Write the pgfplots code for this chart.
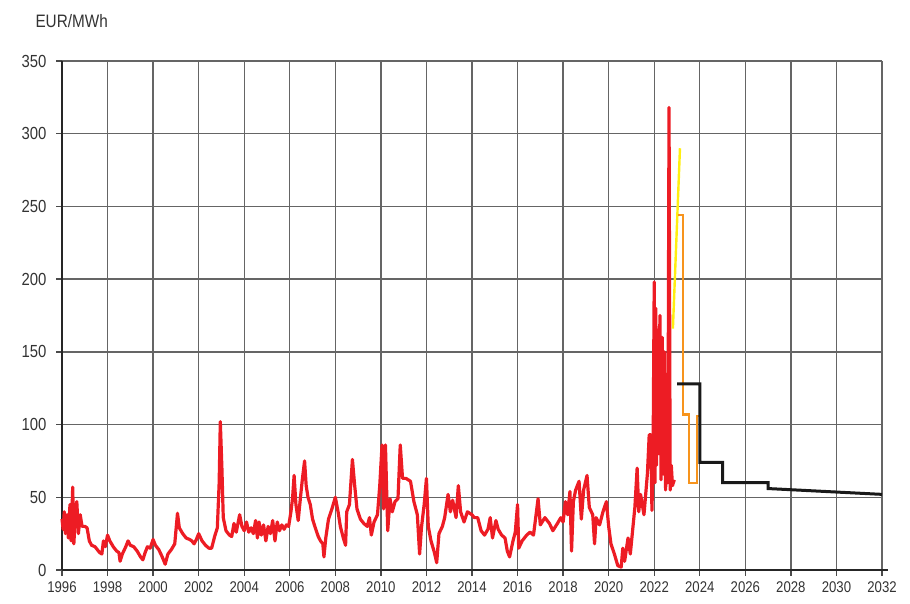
\documentclass[border=0pt]{standalone}
\usepackage{pgfplots}
\pgfplotsset{compat=1.18}
\usepackage{fontspec}
\setmainfont{Liberation Sans}[FakeStretch=0.85]
\definecolor{pricered}{HTML}{ED1C24}
\definecolor{futyellow}{HTML}{FFEE10}
\definecolor{futorange}{HTML}{F7941D}
\definecolor{gridgray}{HTML}{4A4A4A}
\definecolor{labelgray}{HTML}{333333}

\pgfplotstableread{
year price
1996.00 35
1996.05 28
1996.10 40
1996.15 25
1996.22 38
1996.28 22
1996.35 45
1996.40 20
1996.47 57
1996.52 18
1996.60 42
1996.65 47
1996.72 25
1996.80 38
1996.88 30
1997.00 30
1997.10 29
1997.20 20
1997.30 17
1997.45 16
1997.55 14
1997.65 12
1997.75 11
1997.82 20
1997.90 16
1998.00 24
1998.10 20
1998.25 16
1998.40 13
1998.50 12
1998.55 6
1998.65 11
1998.80 16
1998.90 20
1999.00 17
1999.15 16
1999.30 13
1999.45 9
1999.55 7
1999.65 12
1999.75 16
1999.87 15
2000.00 21
2000.10 17
2000.25 14
2000.40 9
2000.53 4
2000.65 11
2000.80 14
2000.95 18
2001.07 39
2001.15 29
2001.30 25
2001.45 22
2001.60 21
2001.70 20
2001.80 18
2001.90 21
2002.00 25
2002.15 20
2002.30 17
2002.45 15
2002.57 15
2002.70 23
2002.82 29
2002.90 60
2002.95 102
2003.02 70
2003.08 36
2003.20 27
2003.35 24
2003.45 23
2003.55 32
2003.65 26
2003.80 38
2003.90 30
2004.00 27
2004.10 33
2004.20 26
2004.30 29
2004.40 25
2004.50 34
2004.58 22
2004.65 33
2004.75 24
2004.85 31
2004.95 20
2005.05 30
2005.15 25
2005.25 34
2005.35 20
2005.45 33
2005.55 27
2005.65 31
2005.75 28
2005.85 31
2005.95 30
2006.05 40
2006.12 49
2006.19 65
2006.27 45
2006.37 34
2006.47 50
2006.55 62
2006.65 75
2006.72 58
2006.80 50
2006.90 45
2007.00 35
2007.10 30
2007.25 23
2007.35 20
2007.45 18
2007.50 9
2007.58 22
2007.70 35
2007.85 42
2008.00 50
2008.12 40
2008.22 30
2008.35 22
2008.45 17
2008.50 40
2008.62 45
2008.75 76
2008.85 58
2008.95 42
2009.10 35
2009.25 32
2009.40 30
2009.50 36
2009.58 24
2009.70 33
2009.85 38
2009.95 58
2010.05 86
2010.12 42
2010.20 86
2010.30 27
2010.40 49
2010.50 40
2010.62 47
2010.75 49
2010.85 86
2010.95 63
2011.10 63
2011.30 61
2011.45 47
2011.60 38
2011.70 11
2011.78 29
2011.90 45
2012.00 63
2012.08 30
2012.20 20
2012.35 12
2012.45 5
2012.55 25
2012.70 30
2012.80 36
2012.95 52
2013.05 40
2013.15 48
2013.30 36
2013.40 58
2013.50 40
2013.65 33
2013.80 40
2014.00 38
2014.10 36
2014.25 36
2014.40 27
2014.55 24
2014.70 28
2014.80 36
2014.90 22
2015.05 34
2015.15 28
2015.30 24
2015.45 22
2015.55 13
2015.65 9
2015.80 20
2015.90 26
2016.00 45
2016.05 15
2016.20 20
2016.40 24
2016.55 26
2016.70 24
2016.90 49
2017.00 31
2017.20 36
2017.40 32
2017.55 27
2017.75 32
2017.90 36
2018.00 33
2018.10 47
2018.20 38
2018.30 54
2018.37 13
2018.45 47
2018.55 55
2018.70 61
2018.80 35
2018.90 55
2019.05 65
2019.15 43
2019.30 38
2019.38 18
2019.45 36
2019.60 31
2019.75 40
2019.90 47
2020.00 30
2020.10 18
2020.25 11
2020.40 3
2020.55 2
2020.62 15
2020.70 6
2020.85 22
2020.95 11
2021.15 43
2021.25 70
2021.32 40
2021.40 52
2021.55 38
2021.70 66
2021.78 93
2021.85 93
2021.90 41
2021.95 79
2022.00 198
2022.03 60
2022.07 180
2022.10 72
2022.15 165
2022.20 80
2022.25 175
2022.30 62
2022.35 160
2022.40 66
2022.45 150
2022.50 55
2022.55 130
2022.60 60
2022.65 318
2022.70 55
2022.75 72
2022.80 58
2022.88 62
}\spotprice

\pgfplotstableread{
year price
2022.82 166
2023.13 290
}\dailyfut

\pgfplotstableread{
year price
2023.03 244
2023.27 244
2023.27 107
2023.53 107
2023.53 60
2023.88 60
2023.88 106
2023.95 106
}\quarterfut

\pgfplotstableread{
year price
2023.00 128
2024.00 128
2024.00 74
2025.00 74
2025.00 60
2027.00 60
2027.00 56
2032.00 52
}\yearfut

\begin{document}
\begin{tikzpicture}
\begin{axis}[
  scale only axis,
  width=820pt, height=509pt,
  xmin=1996, xmax=2032,
  ymin=0, ymax=350,
  xtick={1996,1998,...,2032},
  ytick={0,50,...,350},
  xticklabel style={font=\fontsize{15.5}{17}\selectfont, text=labelgray},
  yticklabel style={font=\fontsize{17.5}{19}\selectfont, text=labelgray},
  /pgf/number format/assume math mode=true,
  /pgf/number format/1000 sep={},
  axis x line=bottom, axis y line=left,
  axis line style={-, line width=1.8pt, black!85},
  x axis line style={line width=2.4pt, shorten >=-6pt},
  tick align=outside, major tick length=6pt,
  tick style={line width=1.4pt, gridgray},
  grid=major,
  major grid style={line width=1.4pt, gridgray!85},
  xticklabel shift=2pt,
  yticklabel shift=6pt,
  ylabel={EUR/MWh},
  ylabel style={rotate=-90, at={(rel axis cs:0,1)}, anchor=base west,
    xshift=-30pt, yshift=33pt, font=\fontsize{18}{20}\selectfont, text=labelgray},
  clip=false,
]
\addplot[pricered, line width=3.2pt, line join=round] table[x=year, y=price] {\spotprice};
\addplot[futyellow, line width=2.4pt] table[x=year, y=price] {\dailyfut};
\addplot[futorange, line width=2.4pt] table[x=year, y=price] {\quarterfut};
\addplot[black!90, line width=3pt] table[x=year, y=price] {\yearfut};
\path (rel axis cs:0,0) coordinate (sw) (rel axis cs:1,1) coordinate (ne);
\end{axis}
\pgfresetboundingbox
\path[use as bounding box] ([xshift=-62pt,yshift=-34pt]sw) rectangle ([xshift=28pt,yshift=61pt]ne);
\end{tikzpicture}
\end{document}
